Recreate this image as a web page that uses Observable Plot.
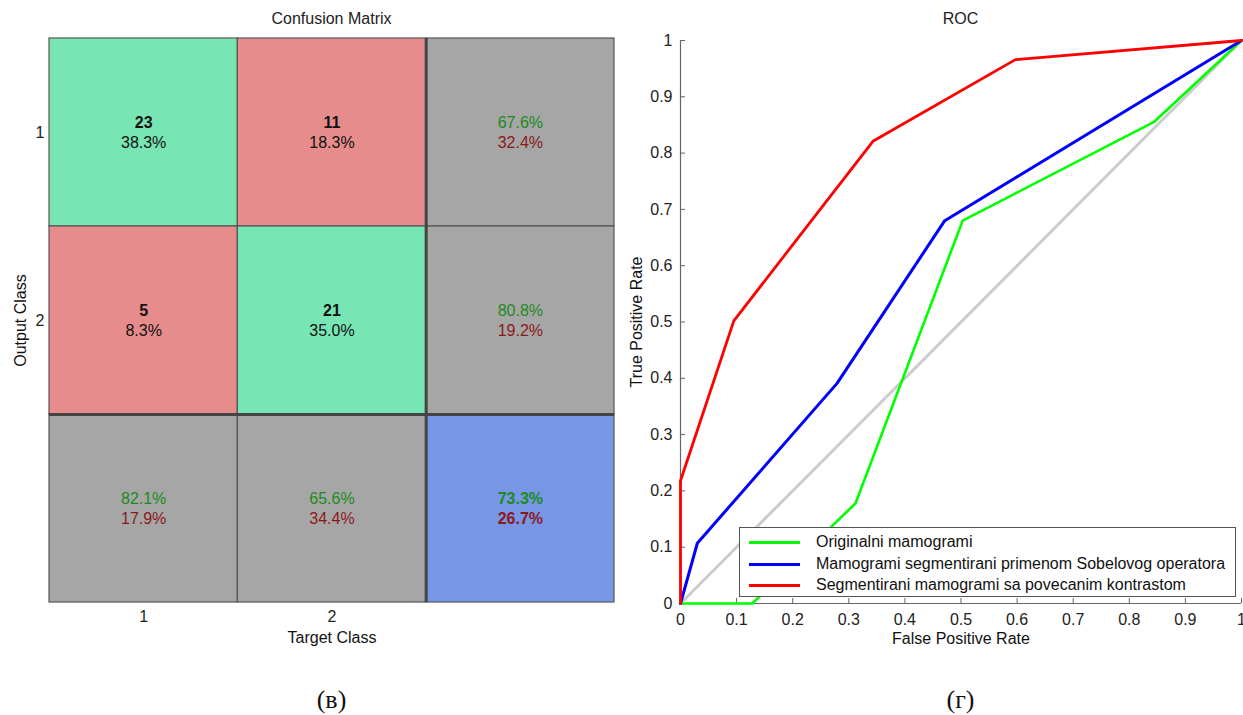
<!DOCTYPE html>
<html><head><meta charset="utf-8">
<script src="https://cdn.jsdelivr.net/npm/d3@7"></script>
<script src="https://cdn.jsdelivr.net/npm/@observablehq/plot@0.6"></script>
<style>
body{margin:0;background:#fff;font-family:"Liberation Sans",Arial,sans-serif;}
#root{position:relative;width:1243px;height:715px;overflow:hidden;background:#fff;}
.title{position:absolute;top:8px;height:22px;line-height:22px;text-align:center;font-size:16px;color:#222;}
.caption{position:absolute;top:684px;height:32px;line-height:32px;text-align:center;font-family:"Liberation Serif","Times New Roman",serif;font-size:26px;color:#111;}
.panel{position:absolute;top:30px;}
#legend{position:absolute;left:739px;top:527px;width:497px;height:70px;box-sizing:border-box;border:1px solid #555;background:#fff;}
.entry{position:absolute;left:9px;height:20px;font-size:16px;color:#111;white-space:nowrap;}
.entry .sw{position:absolute;left:0;top:9px;width:51px;height:0;border-top:3px solid;}
.entry .lb{position:absolute;left:67px;top:0;line-height:20px;}
</style></head><body>
<div id="root">
  <div class="title" style="left:49px;width:565px">Confusion Matrix</div>
  <div class="title" style="left:680px;width:561px">ROC</div>
  <div class="panel" id="cm" style="left:0"></div>
  <div class="panel" id="roc" style="left:620px"></div>
  <div id="legend"></div>
  <div class="caption" style="left:49px;width:565px">(в)</div>
  <div class="caption" style="left:680px;width:561px">(г)</div>
</div>
<script>
// ---------- Confusion matrix data ----------
const classes = ["1", "2"];
const counts = [[23, 11], [5, 21]];          // rows: output class, cols: target class
const cellPct = [[38.3, 18.3], [8.3, 35.0]];
const rowCorrect = [67.6, 80.8];
const rowWrong = [32.4, 19.2];
const colCorrect = [82.1, 65.6];
const colWrong = [17.9, 34.4];
const totalCorrect = 73.3;
const totalWrong = 26.7;

// ---------- ROC data ----------
const rocTicks = [0, 0.1, 0.2, 0.3, 0.4, 0.5, 0.6, 0.7, 0.8, 0.9, 1];
const seriesNames = ["Originalni mamogrami", "Mamogrami segmentirani primenom Sobelovog operatora", "Segmentirani mamogrami sa povecanim kontrastom"];
const seriesColors = ["#00ff00", "#0000ff", "#ff0000"];
const fprOriginal = [0, 0.128, 0.312, 0.503, 0.845, 1];
const tprOriginal = [0, 0, 0.178, 0.68, 0.856, 1];
const fprSobel = [0, 0.03, 0.279, 0.471, 1];
const tprSobel = [0, 0.107, 0.391, 0.68, 1];
const fprContrast = [0, 0, 0.095, 0.343, 0.597, 1];
const tprContrast = [0, 0.218, 0.502, 0.821, 0.966, 1];
const chanceFpr = [0, 1];
const chanceTpr = [0, 1];

const FONT = '"Liberation Sans", Arial, sans-serif';
const GREEN_CELL = "#78e6b4", RED_CELL = "#e68c8c", GRAY_CELL = "#a6a6a6", BLUE_CELL = "#7896e6";
const GREEN_TXT = "#1d8a1d", RED_TXT = "#8a1a1a";

// build confusion cells
const mainCells = [];
classes.forEach((o, r) => classes.forEach((t, c) => {
  mainCells.push({r, c, count: counts[r][c], pct: cellPct[r][c], fill: r === c ? GREEN_CELL : RED_CELL});
}));
const summaryCells = [];
rowCorrect.forEach((v, r) => summaryCells.push({r, c: 2, top: v, bottom: rowWrong[r], fill: GRAY_CELL}));
colCorrect.forEach((v, c) => summaryCells.push({r: 2, c, top: v, bottom: colWrong[c], fill: GRAY_CELL}));
const totalCell = [{r: 2, c: 2, top: totalCorrect, bottom: totalWrong, fill: BLUE_CELL}];
const allCells = [...mainCells, ...summaryCells, ...totalCell];
const n = classes.length + 1;
const fmt = v => v.toFixed(1) + "%";

const cm = Plot.plot({
  width: 620, height: 630,
  marginLeft: 49, marginRight: 6, marginTop: 8, marginBottom: 58,
  style: {fontSize: "16px", fontFamily: FONT, color: "#222", background: "transparent", overflow: "visible"},
  x: {domain: [0, n]},
  y: {domain: [0, n], reverse: true},
  marks: [
    Plot.rect(allCells, {x1: d => d.c, x2: d => d.c + 1, y1: d => d.r, y2: d => d.r + 1, fill: d => d.fill, stroke: "#555", strokeWidth: 1.2}),
    Plot.ruleX([classes.length], {y1: 0, y2: n, stroke: "#444", strokeWidth: 3}),
    Plot.ruleY([classes.length], {x1: 0, x2: n, stroke: "#444", strokeWidth: 3}),
    Plot.text(mainCells, {x: d => d.c + 0.5, y: d => d.r + 0.5, text: d => String(d.count), dy: -9.5, fontWeight: "bold", fontSize: 16, fill: "#111"}),
    Plot.text(mainCells, {x: d => d.c + 0.5, y: d => d.r + 0.5, text: d => fmt(d.pct), dy: 10, fontSize: 16, fill: "#111"}),
    Plot.text(summaryCells, {x: d => d.c + 0.5, y: d => d.r + 0.5, text: d => fmt(d.top), dy: -9.5, fontSize: 16, fill: GREEN_TXT}),
    Plot.text(summaryCells, {x: d => d.c + 0.5, y: d => d.r + 0.5, text: d => fmt(d.bottom), dy: 10, fontSize: 16, fill: RED_TXT}),
    Plot.text(totalCell, {x: d => d.c + 0.5, y: d => d.r + 0.5, text: d => fmt(d.top), dy: -9.5, fontSize: 16, fontWeight: "bold", fill: GREEN_TXT}),
    Plot.text(totalCell, {x: d => d.c + 0.5, y: d => d.r + 0.5, text: d => fmt(d.bottom), dy: 10, fontSize: 16, fontWeight: "bold", fill: RED_TXT}),
    Plot.axisX(classes.map((c, i) => i + 0.5), {tickFormat: d => classes[Math.floor(d)], tickSize: 0, tickPadding: 8, fontSize: 16, label: null}),
    Plot.axisY(classes.map((c, i) => i + 0.5), {tickFormat: d => classes[Math.floor(d)], tickSize: 0, tickPadding: 5, fontSize: 16, label: null}),
    Plot.text(["Target Class"], {frameAnchor: "bottom", dy: 35, lineAnchor: "middle", textAnchor: "middle", fontSize: 16, fill: "#111"}),
    Plot.text(["Output Class"], {frameAnchor: "left", dx: -29, rotate: -90, lineAnchor: "middle", textAnchor: "middle", fontSize: 16, fill: "#111"})
  ]
});
document.getElementById("cm").appendChild(cm);

// ---------- ROC ----------
const toPts = (xs, ys) => xs.map((x, i) => ({x, y: ys[i]}));
const roc = Plot.plot({
  width: 623, height: 630,
  marginLeft: 60, marginRight: 2, marginTop: 10, marginBottom: 57,
  style: {fontSize: "16px", fontFamily: FONT, color: "#222", background: "transparent", overflow: "visible"},
  x: {domain: [0, 1]},
  y: {domain: [0, 1]},
  marks: [
    Plot.ruleX([0], {stroke: "#666", strokeWidth: 1.2}),
    Plot.ruleY([0], {stroke: "#666", strokeWidth: 1.2}),
    Plot.axisX(rocTicks, {tickFormat: d => String(d), tickSize: -5, tickPadding: 15, stroke: "#666", fontSize: 16, label: null}),
    Plot.axisY(rocTicks, {tickFormat: d => String(d), tickSize: -5, tickPadding: 13, stroke: "#666", fontSize: 16, label: null}),
    Plot.line(toPts(chanceFpr, chanceTpr), {x: "x", y: "y", stroke: "#cccccc", strokeWidth: 3}),
    Plot.line(toPts(fprOriginal, tprOriginal), {x: "x", y: "y", stroke: seriesColors[0], strokeWidth: 2.6, strokeLinejoin: "miter"}),
    Plot.line(toPts(fprSobel, tprSobel), {x: "x", y: "y", stroke: seriesColors[1], strokeWidth: 3, strokeLinejoin: "miter"}),
    Plot.line(toPts(fprContrast, tprContrast), {x: "x", y: "y", stroke: seriesColors[2], strokeWidth: 2.8, strokeLinejoin: "miter"}),
    Plot.text(["False Positive Rate"], {frameAnchor: "bottom", dy: 35, lineAnchor: "middle", textAnchor: "middle", fontSize: 16, fill: "#111"}),
    Plot.text(["True Positive Rate"], {frameAnchor: "left", dx: -44, rotate: -90, lineAnchor: "middle", textAnchor: "middle", fontSize: 16, fill: "#111"})
  ]
});
document.getElementById("roc").appendChild(roc);

// ---------- legend ----------
const legend = document.getElementById("legend");
seriesNames.forEach((name, i) => {
  const e = document.createElement("div");
  e.className = "entry";
  e.style.top = (4 + i * 21.5) + "px";
  const sw = document.createElement("div");
  sw.className = "sw";
  sw.style.borderTopColor = seriesColors[i];
  const lb = document.createElement("div");
  lb.className = "lb";
  lb.textContent = name;
  e.appendChild(sw); e.appendChild(lb);
  legend.appendChild(e);
});
</script>
</body></html>
